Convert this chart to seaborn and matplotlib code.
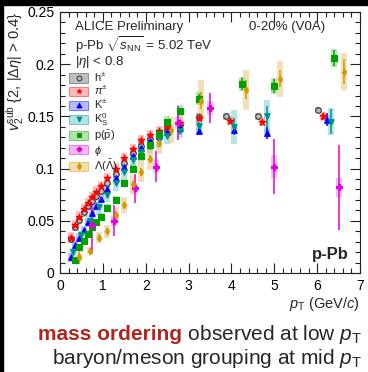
import matplotlib
matplotlib.use("Agg")
import matplotlib.pyplot as plt
import seaborn as sns
from matplotlib.lines import Line2D
from matplotlib.patches import Patch, Rectangle
from matplotlib.ticker import MultipleLocator

# values: pT (GeV/c), v2, stat. error, syst. half-height
h_pt = [0.25, 0.35, 0.45, 0.55, 0.65, 0.75, 0.85, 0.95, 1.1, 1.3, 1.5, 1.7, 1.9, 2.1, 2.3, 2.5, 2.8, 3.25, 3.87, 4.62, 6.03]
h_v2 = [0.033, 0.044, 0.051, 0.058, 0.064, 0.069, 0.074, 0.079, 0.086, 0.095, 0.105, 0.115, 0.122, 0.128, 0.133, 0.137, 0.142, 0.149, 0.150, 0.150, 0.156]
h_stat = [0, 0, 0, 0, 0, 0, 0, 0, 0, 0, 0, 0, 0, 0, 0, 0, 0, 0, 0.002, 0.002, 0.003]
h_sys = [0.004, 0.004, 0.004, 0.004, 0.004, 0.004, 0.004, 0.004, 0.004, 0.004, 0.004, 0.004, 0.004, 0.004, 0.004, 0.004, 0.004, 0.004, 0.003, 0.003, 0.003]

pi_pt = [0.25, 0.35, 0.45, 0.55, 0.65, 0.75, 0.85, 0.95, 1.1, 1.3, 1.5, 1.7, 1.9, 2.1, 2.3, 2.5, 2.8, 3.25, 3.97, 4.72, 6.13]
pi_v2 = [0.034, 0.046, 0.054, 0.061, 0.067, 0.073, 0.078, 0.083, 0.091, 0.100, 0.110, 0.119, 0.127, 0.132, 0.136, 0.140, 0.144, 0.148, 0.146, 0.145, 0.150]
pi_stat = [0, 0, 0, 0, 0, 0, 0, 0, 0, 0, 0, 0, 0, 0, 0, 0, 0, 0, 0.002, 0.002, 0.003]
pi_sys = [0.005, 0.005, 0.005, 0.005, 0.005, 0.005, 0.005, 0.005, 0.005, 0.005, 0.005, 0.005, 0.005, 0.005, 0.005, 0.005, 0.005, 0.005, 0.004, 0.004, 0.004]

k_pt = [0.25, 0.35, 0.45, 0.55, 0.65, 0.75, 0.85, 0.95, 1.1, 1.3, 1.5, 1.7, 1.9, 2.1, 2.3, 2.5, 2.8, 3.25, 4.07, 4.82, 6.23]
k_v2 = [0.015, 0.027, 0.034, 0.041, 0.049, 0.057, 0.064, 0.071, 0.080, 0.091, 0.102, 0.112, 0.120, 0.126, 0.131, 0.135, 0.139, 0.136, 0.137, 0.134, 0.147]
k_stat = [0, 0, 0, 0, 0, 0, 0, 0, 0, 0, 0, 0, 0, 0, 0, 0, 0, 0.003, 0.004, 0.006, 0.006]
k_sys = [0.004, 0.004, 0.004, 0.004, 0.004, 0.004, 0.004, 0.004, 0.004, 0.004, 0.004, 0.004, 0.004, 0.004, 0.004, 0.004, 0.004, 0.004, 0.004, 0.004, 0.004]

k0_pt = [0.3, 0.5, 0.7, 0.9, 1.1, 1.3, 1.5, 1.7, 1.9, 2.1, 2.3, 2.5, 2.8, 3.25, 4.07, 4.82, 6.33]
k0_v2 = [0.020, 0.036, 0.050, 0.063, 0.075, 0.086, 0.097, 0.108, 0.116, 0.122, 0.127, 0.131, 0.136, 0.141, 0.140, 0.150, 0.145]
k0_stat = [0, 0, 0, 0, 0, 0, 0, 0, 0, 0, 0, 0, 0.003, 0.004, 0.008, 0.010, 0.012]
k0_sys = [0.004, 0.005, 0.006, 0.007, 0.007, 0.007, 0.007, 0.007, 0.007, 0.007, 0.007, 0.007, 0.007, 0.008, 0.016, 0.016, 0.013]

p_pt = [0.35, 0.45, 0.55, 0.65, 0.75, 0.85, 0.95, 1.1, 1.3, 1.5, 1.7, 1.9, 2.1, 2.3, 2.5, 2.8, 3.25, 4.25, 5.0, 6.4]
p_v2 = [0.012, 0.025, 0.031, 0.037, 0.044, 0.049, 0.054, 0.062, 0.070, 0.086, 0.100, 0.112, 0.123, 0.133, 0.145, 0.155, 0.167, 0.181, 0.179, 0.206]
p_stat = [0, 0, 0, 0, 0, 0, 0, 0, 0, 0, 0, 0, 0, 0, 0, 0.003, 0.004, 0.006, 0.007, 0.008]
p_sys = [0.003, 0.003, 0.003, 0.003, 0.003, 0.003, 0.003, 0.004, 0.004, 0.004, 0.004, 0.005, 0.005, 0.005, 0.005, 0.006, 0.006, 0.007, 0.008, 0.009]

phi_pt = [0.75, 1.25, 1.75, 2.25, 2.75, 3.5, 5.0, 6.5]
phi_v2 = [0.046, 0.050, 0.081, 0.102, 0.1435, 0.158, 0.102, 0.082]
phi_stat = [0.027, 0.015, 0.014, 0.015, 0.016, 0.014, 0.026, 0.041]
phi_sys = [0.004, 0.005, 0.005, 0.006, 0.006, 0.007, 0.011, 0.009]

lam_pt = [0.45, 0.7, 0.9, 1.1, 1.3, 1.5, 1.7, 1.9, 2.1, 2.3, 2.6, 3.3, 4.35, 5.13, 6.63]
lam_v2 = [0.015, 0.021, 0.034, 0.040, 0.056, 0.065, 0.085, 0.097, 0.109, 0.125, 0.137, 0.165, 0.1755, 0.186, 0.193]
lam_stat = [0.006, 0.003, 0.003, 0.003, 0.003, 0.003, 0.003, 0.004, 0.004, 0.004, 0.005, 0.008, 0.009, 0.008, 0.012]
lam_sys = [0.004, 0.004, 0.005, 0.006, 0.007, 0.008, 0.009, 0.010, 0.010, 0.011, 0.012, 0.020, 0.019, 0.0175, 0.018]

species = [
    dict(pt=h_pt, v2=h_v2, stat=h_stat, sys=h_sys, label=r'h$^{\pm}$', marker='o', color='#333333', face='#bbbbbb', box='#8c8c8c', s=16),
    dict(pt=pi_pt, v2=pi_v2, stat=pi_stat, sys=pi_sys, label=r'$\pi^{\pm}$', marker='*', color='#ff0000', face='#ff0000', box='#ff8080', s=26),
    dict(pt=k_pt, v2=k_v2, stat=k_stat, sys=k_sys, label=r'K$^{\pm}$', marker='^', color='#0000ff', face='#0000ff', box='#8080ff', s=16),
    dict(pt=k0_pt, v2=k0_v2, stat=k0_stat, sys=k0_sys, label=r'K$^{0}_{\rm S}$', marker='v', color='#008f8f', face='#008f8f', box='#70cccc', s=16),
    dict(pt=p_pt, v2=p_v2, stat=p_stat, sys=p_sys, label=r'p($\bar{\rm p}$)', marker='s', color='#00a000', face='#00a000', box='#70cc70', s=14),
    dict(pt=phi_pt, v2=phi_v2, stat=phi_stat, sys=phi_sys, label=r'$\phi$', marker='P', color='#e000e0', face='#e000e0', box='#f080f0', s=22),
    dict(pt=lam_pt, v2=lam_v2, stat=lam_stat, sys=lam_sys, label=r'$\Lambda$($\bar{\Lambda}$)', marker='d', color='#d49a00', face='#d49a00', box='#e8c070', s=12),
]

sns.set_theme(style='ticks')
plt.rcParams['font.family'] = ['Liberation Sans', 'DejaVu Sans']
plt.rcParams['mathtext.fontset'] = 'custom'
plt.rcParams['mathtext.rm'] = 'Liberation Sans'
plt.rcParams['mathtext.it'] = 'Liberation Sans:italic'
plt.rcParams['mathtext.bf'] = 'Liberation Sans:bold'

fig = plt.figure(figsize=(3.68, 3.72), dpi=100)
fig.patch.set_facecolor('white')
ax = fig.add_axes([60 / 368, 1 - 273 / 372, 300 / 368, 261 / 372])

handles = []
for sp in species:
    bottoms = [v - e for v, e in zip(sp['v2'], sp['sys'])]
    heights = [2 * e for e in sp['sys']]
    ax.bar(sp['pt'], heights, bottom=bottoms, width=0.14, color=sp['box'], alpha=0.5, lw=0, zorder=2)
    ax.errorbar(sp['pt'], sp['v2'], yerr=sp['stat'], fmt='none', ecolor=sp['color'], elinewidth=1.1, zorder=3)
    sns.scatterplot(x=sp['pt'], y=sp['v2'], marker=sp['marker'], color=sp['face'], edgecolor=sp['color'],
                    linewidth=0.8, s=sp['s'], ax=ax, zorder=4, legend=False)
    handles.append((Patch(facecolor=sp['box'], edgecolor=sp['color'], alpha=0.55, lw=0.6),
                    Line2D([], [], ls='', marker=sp['marker'], ms=3.5, mfc=sp['face'], mec=sp['color'], mew=0.7)))

ax.set_xlim(0, 7)
ax.set_ylim(0, 0.25)
ax.xaxis.set_major_locator(MultipleLocator(1))
ax.xaxis.set_minor_locator(MultipleLocator(0.2))
ax.yaxis.set_major_locator(MultipleLocator(0.05))
ax.yaxis.set_minor_locator(MultipleLocator(0.01))
ax.yaxis.set_major_formatter(plt.FuncFormatter(lambda v, p: '0' if v == 0 else f'{v:g}'))
ax.tick_params(which='both', direction='in', top=True, right=True, colors='#222222', labelcolor='black', width=0.8)
ax.tick_params(which='major', length=7, labelsize=10, pad=4)
ax.tick_params(which='minor', length=3.5)
for sp_ in ax.spines.values():
    sp_.set_linewidth(0.8)
    sp_.set_color('#222222')

ax.set_xlabel(r'$p_{\rm T}$ (GeV/$c$)', fontsize=10.5, loc='right', labelpad=2)
ax.set_ylabel(r'$v_2^{\rm sub}$ {2, |$\Delta\eta$| > 0.4}', fontsize=10.5, loc='top', labelpad=1)

ax.text(0.05, 0.943, 'ALICE Preliminary', transform=ax.transAxes, fontsize=9.5, va='center')
ax.text(0.05, 0.875, r'p-Pb $\sqrt{s_{\rm NN}}$ = 5.02 TeV', transform=ax.transAxes, fontsize=9.5, va='center')
ax.text(0.05, 0.81, r'|$\eta$| < 0.8', transform=ax.transAxes, fontsize=9.5, va='center')
ax.text(0.63, 0.943, '0-20% (V0A)', transform=ax.transAxes, fontsize=9.5, va='center')
ax.text(0.963, 0.069, 'p-Pb', transform=ax.transAxes, fontsize=12, fontweight='bold', ha='right', va='center')

ax.legend(handles, [sp['label'] for sp in species], loc='upper left', bbox_to_anchor=(0.005, 0.805),
          frameon=False, fontsize=8, handlelength=1.7, handleheight=0.9, handletextpad=0.5,
          labelspacing=0.05, borderaxespad=0.3)

# caption below the plot
fig.canvas.draw()
rest = fig.text(0.985, 1 - 335 / 372, r' observed at low $p_{\rm T}$', ha='right', va='center', fontsize=15)
bb = rest.get_window_extent(fig.canvas.get_renderer())
fig.text(bb.x0 / fig.bbox.width, 1 - 335 / 372, 'mass ordering', ha='right', va='center', fontsize=15,
         fontweight='bold', color='#b3241c')
fig.text(0.985, 1 - 358 / 372, r'baryon/meson grouping at mid $p_{\rm T}$', ha='right', va='center', fontsize=15)

# black strips of the screenshot frame
fig.patches.append(Rectangle((0, 1 - 5 / 372), 1, 5 / 372, transform=fig.transFigure, color='black', zorder=10))
fig.patches.append(Rectangle((0, 0), 3 / 368, 1, transform=fig.transFigure, color='black', zorder=10))

fig.savefig('out.png', dpi=100)
